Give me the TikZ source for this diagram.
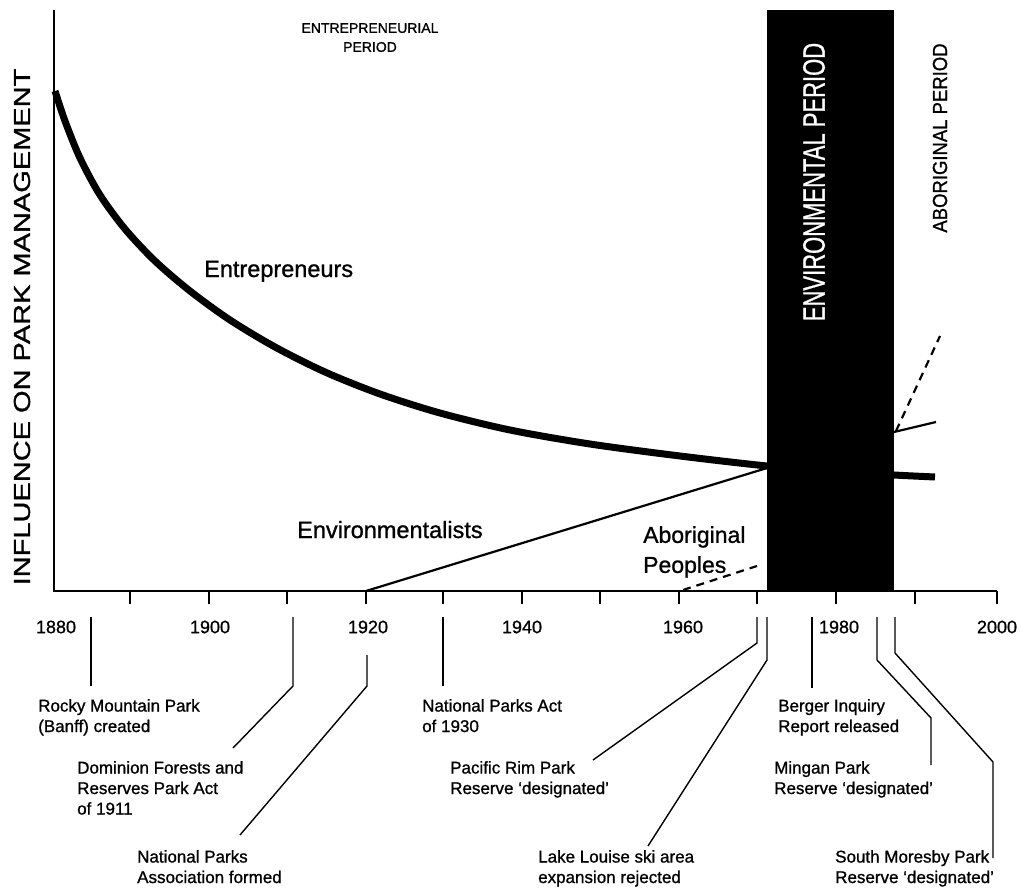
\documentclass[tikz,border=0pt]{standalone}
\usepackage{fontspec}
\setmainfont[FakeBold=1.0]{Liberation Sans}
\begin{document}
\begin{tikzpicture}[x=1pt,y=-1pt,
  axisline/.style={line width=1.6pt},
  leader/.style={line width=1.4pt, line join=miter},
  evlabel/.style={anchor=north west, inner sep=0pt, align=left,
    font=\fontsize{17}{20.5}\selectfont},
  yearlabel/.style={inner sep=0pt, font=\fontsize{18}{20}\selectfont},
  serieslabel/.style={inner sep=0pt, font=\fontsize{23.5}{30}\selectfont},
  periodlabel/.style={inner sep=0pt, align=center, font=\fontsize{14}{19}\selectfont},
  trendline/.style={line width=2.2pt},
  trenddash/.style={line width=2.2pt, dash pattern=on 8pt off 6pt},
  maincurve/.style={line width=7pt, line cap=butt, line join=round}
]
\useasboundingbox (0,0) rectangle (1023,888);

% environmental period band
\fill[black] (767,10) rectangle (894,591);
\node[rotate=90, text=white, inner sep=0pt, font=\fontsize{22}{24}\selectfont]
  (envperiod) at (814,182) {\scalebox{1}[1.4]{ENVIRONMENTAL PERIOD}};

% axes
\coordinate (ytop) at (54,10);
\coordinate (origin) at (54,591);
\coordinate (xend) at (997,591);
\draw[axisline] (ytop) -- (origin) -- (xend);
\foreach \x in {130,209,287,366,443,522,600,679,757,836,915,997}
  \draw[axisline] (\x,591) -- (\x,604);

% axis title
\node[rotate=90, inner sep=0pt, font=\fontsize{29}{32}\selectfont]
  (ytitle) at (22,327) {\scalebox{1}[0.8]{INFLUENCE ON PARK MANAGEMENT}};

% year labels
\node[yearlabel] (y1880) at (56,627) {1880};
\node[yearlabel] (y1900) at (210,627) {1900};
\node[yearlabel] (y1920) at (368,627) {1920};
\node[yearlabel] (y1940) at (522,627) {1940};
\node[yearlabel] (y1960) at (683,627) {1960};
\node[yearlabel] (y1980) at (839,627) {1980};
\node[yearlabel] (y2000) at (997,627) {2000};

% period titles
\node[periodlabel, anchor=north] (pentre) at (370,23) {ENTREPRENEURIAL\\PERIOD};
\node[rotate=90, inner sep=0pt, font=\fontsize{18.5}{20}\selectfont]
  (paborig) at (940,138) {\scalebox{1}[1.1]{ABORIGINAL PERIOD}};

% entrepreneurs curve
\draw[maincurve] plot[smooth, tension=0.5] coordinates {
  (55,91) (65,121) (80,158) (100,195) (125,229) (155,261) (190,291)
  (230,320) (275,347) (325,372) (380,394) (440,413) (510,430) (590,444)
  (680,456) (767,466) (830,471) (894,475) (935,477)};

% environmentalists line
\coordinate (envstart) at (366,591);
\coordinate (envmeet) at (767,468);
\draw[trendline] (envstart) -- (envmeet);
\coordinate (envrise0) at (894,432);
\coordinate (envrise1) at (936,422);
\draw[trendline] (envrise0) -- (envrise1);

% aboriginal peoples dashed lines
\coordinate (ab0) at (683,590);
\coordinate (ab1) at (757,566);
\draw[trenddash] (ab0) -- (ab1);
\coordinate (ab2) at (896,431);
\coordinate (ab3) at (940,336);
\draw[trenddash] (ab2) -- (ab3);

% series labels
\node[serieslabel, anchor=base west] (entre) at (204,277) {Entrepreneurs};
\node[serieslabel, anchor=base west] (envir) at (297,538) {Environmentalists};
\node[serieslabel, anchor=north west, align=left,
  font=\fontsize{23}{30}\selectfont] (aborig) at (643,526) {Aboriginal\\Peoples};

% event labels
\node[evlabel] (rocky)   at (38,699)  {Rocky Mountain Park\\(Banff) created};
\node[evlabel] (domin)   at (77,761)  {Dominion Forests and\\Reserves Park Act\\of 1911};
\node[evlabel] (npassoc) at (137,850) {National Parks\\Association formed};
\node[evlabel] (npact)   at (422,699) {National Parks Act\\of 1930};
\node[evlabel] (pacrim)  at (450,761) {Pacific Rim Park\\Reserve `designated'};
\node[evlabel] (lakel)   at (538,850) {Lake Louise ski area\\expansion rejected};
\node[evlabel] (berger)  at (778,699) {Berger Inquiry\\Report released};
\node[evlabel] (mingan)  at (774,761) {Mingan Park\\Reserve `designated'};
\node[evlabel] (moresby) at (835,850) {South Moresby Park\\Reserve `designated'};

% event leader lines
\coordinate (l1a) at (91,617);  \coordinate (l1b) at (91,686);
\draw[leader] (l1a) -- (l1b);
\coordinate (l2a) at (293,617); \coordinate (l2b) at (293,686); \coordinate (l2c) at (233,748);
\draw[leader] (l2a) -- (l2b) -- (l2c);
\coordinate (l3a) at (367,655); \coordinate (l3b) at (367,686); \coordinate (l3c) at (240,835);
\draw[leader] (l3a) -- (l3b) -- (l3c);
\coordinate (l4a) at (443,617); \coordinate (l4b) at (443,686);
\draw[leader] (l4a) -- (l4b);
\coordinate (l5a) at (757,617); \coordinate (l5b) at (757,643); \coordinate (l5c) at (593,760);
\draw[leader] (l5a) -- (l5b) -- (l5c);
\coordinate (l6a) at (767,617); \coordinate (l6b) at (767,660); \coordinate (l6c) at (648,846);
\draw[leader] (l6a) -- (l6b) -- (l6c);
\coordinate (l7a) at (812,617); \coordinate (l7b) at (812,688);
\draw[leader] (l7a) -- (l7b);
\coordinate (l8a) at (877,617); \coordinate (l8b) at (877,660); \coordinate (l8c) at (931,718); \coordinate (l8d) at (931,765);
\draw[leader] (l8a) -- (l8b) -- (l8c) -- (l8d);
\coordinate (l9a) at (895,617); \coordinate (l9b) at (895,653); \coordinate (l9c) at (993,762); \coordinate (l9d) at (993,858);
\draw[leader] (l9a) -- (l9b) -- (l9c) -- (l9d);
\end{tikzpicture}
\end{document}
